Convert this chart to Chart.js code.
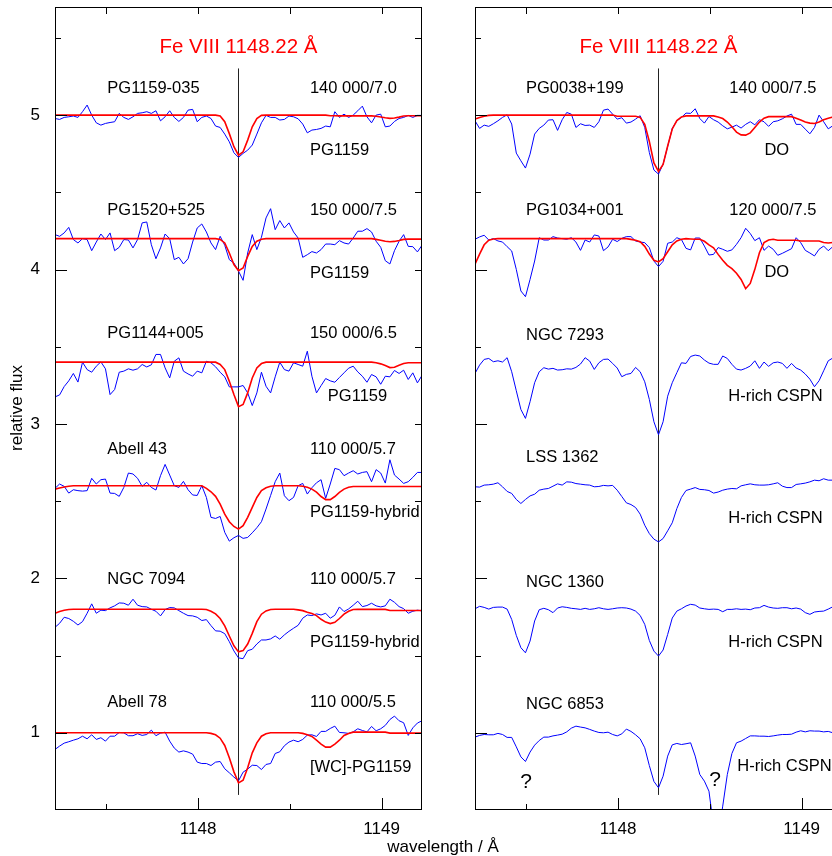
<!DOCTYPE html>
<html lang="en">
<head>
    <meta charset="utf-8">
    <title>Fe VIII 1148.22 line profiles</title>
    <style>
        html, body { margin: 0; padding: 0; background: #fff; overflow: hidden; }
        #figure { position: relative; width: 832px; height: 856px; overflow: hidden; }
        #left { position: absolute; left: 0; top: 0; }
        #right { position: absolute; left: 440px; top: 0; }
        #xlabel { position: absolute; left: 343px; top: 837px; width: 200px; text-align: center;
                  font: 17px 'Liberation Sans', Arial, sans-serif; line-height: 20px; color: #000; }
    </style>
</head>
<body>
    <div id="figure">
        <canvas id="left" width="440" height="856"></canvas>
        <canvas id="right" width="420" height="856"></canvas>
        <div id="xlabel">wavelength / Å</div>
    </div>
    <script src="https://cdn.jsdelivr.net/npm/chart.js@4.4.1/dist/chart.umd.min.js"></script>
    <script>
    // wavelength grid (Å), shared by every spectrum and model
    var wavelength = [1147.220,1147.245,1147.270,1147.295,1147.320,1147.345,1147.370,1147.395,1147.420,1147.445,
        1147.470,1147.495,1147.520,1147.545,1147.570,1147.595,1147.620,1147.645,1147.670,1147.695,
        1147.720,1147.745,1147.770,1147.795,1147.820,1147.845,1147.870,1147.895,1147.920,1147.945,
        1147.970,1147.995,1148.020,1148.045,1148.070,1148.095,1148.120,1148.145,1148.170,1148.195,
        1148.220,1148.245,1148.270,1148.295,1148.320,1148.345,1148.370,1148.395,1148.420,1148.445,
        1148.470,1148.495,1148.520,1148.545,1148.570,1148.595,1148.620,1148.645,1148.670,1148.695,
        1148.720,1148.745,1148.770,1148.795,1148.820,1148.845,1148.870,1148.895,1148.920,1148.945,
        1148.970,1148.995,1149.020,1149.045,1149.070,1149.095,1149.120,1149.145,1149.170,1149.195,
        1149.220];

    var xMajorTicks = [1148, 1149];
    var xMinorTicks = [1147.5, 1148.5];
    var yMajorTicks = [1, 2, 3, 4, 5];
    var yMinorTicks = [1.5, 2.5, 3.5, 4.5, 5.5];
    var lineX = [1148.22, 1148.22];
    var lineY = [5.30, 0.60];

    // ---- left panel: observed spectra (blue) ----
    var pg1159_035 = [4.978,4.972,4.985,4.989,4.994,4.985,5.022,5.065,5.000,4.950,
        4.935,4.946,4.952,4.957,5.011,4.985,4.972,4.989,5.011,5.015,
        5.022,5.011,5.028,4.963,4.989,5.028,4.985,4.959,4.985,5.032,
        5.037,4.957,4.985,4.994,4.978,4.929,4.920,4.877,4.827,4.756,
        4.726,4.752,4.773,4.806,4.877,4.950,4.998,4.985,4.985,4.968,
        4.972,4.994,4.989,4.976,4.942,4.885,4.903,4.907,4.914,4.929,
        4.924,5.022,4.985,5.006,4.985,5.000,5.028,5.058,4.989,4.950,
        5.000,5.006,4.924,4.929,4.959,4.978,4.985,4.998,4.985,4.998,
        4.998];
    var pg1520_525 = [4.226,4.215,4.237,4.273,4.194,4.172,4.200,4.194,4.122,4.178,
        4.230,4.194,4.237,4.122,4.144,4.194,4.191,4.140,4.194,4.302,
        4.308,4.161,4.070,4.140,4.230,4.200,4.064,4.079,4.036,4.070,
        4.178,4.269,4.295,4.243,4.172,4.129,4.215,4.157,4.064,4.042,
        3.990,3.930,4.107,4.226,4.129,4.209,4.334,4.394,4.258,4.317,
        4.269,4.302,4.243,4.204,4.079,4.096,4.116,4.107,4.129,4.165,
        4.165,4.161,4.187,4.172,4.165,4.204,4.248,4.248,4.265,4.243,
        4.183,4.144,4.057,4.036,4.122,4.183,4.226,4.150,4.148,4.114,
        4.157];
    var pg1144_005 = [3.175,3.188,3.242,3.279,3.327,3.271,3.400,3.352,3.335,3.374,
        3.402,3.357,3.190,3.223,3.335,3.342,3.357,3.348,3.357,3.385,
        3.369,3.383,3.450,3.450,3.363,3.298,3.406,3.428,3.342,3.324,
        3.309,3.342,3.331,3.406,3.396,3.370,3.335,3.305,3.240,3.240,
        3.240,3.249,3.201,3.119,3.201,3.335,3.244,3.201,3.305,3.400,
        3.352,3.342,3.396,3.385,3.374,3.471,3.309,3.201,3.248,3.294,
        3.279,3.270,3.301,3.331,3.361,3.374,3.337,3.309,3.270,3.320,
        3.305,3.257,3.309,3.305,3.346,3.327,3.348,3.288,3.331,3.266,
        3.314];
    var abell43 = [2.583,2.611,2.596,2.552,2.574,2.568,2.565,2.568,2.648,2.611,
        2.639,2.643,2.552,2.550,2.531,2.589,2.682,2.676,2.648,2.596,
        2.622,2.589,2.572,2.665,2.738,2.669,2.600,2.589,2.628,2.574,
        2.540,2.537,2.600,2.524,2.395,2.388,2.401,2.298,2.241,2.263,
        2.278,2.259,2.265,2.295,2.328,2.367,2.449,2.537,2.626,2.682,
        2.535,2.503,2.524,2.600,2.615,2.546,2.587,2.619,2.639,2.518,
        2.611,2.712,2.704,2.665,2.682,2.697,2.676,2.686,2.691,2.626,
        2.704,2.682,2.617,2.768,2.669,2.643,2.615,2.626,2.654,2.686,
        2.686];
    var ngc7094 = [1.683,1.709,1.748,1.740,1.722,1.698,1.720,1.774,1.835,1.774,
        1.794,1.791,1.809,1.822,1.841,1.839,1.826,1.865,1.826,1.817,
        1.815,1.800,1.787,1.757,1.798,1.811,1.809,1.791,1.774,1.759,
        1.757,1.748,1.727,1.733,1.694,1.660,1.658,1.642,1.590,1.530,
        1.485,1.480,1.532,1.541,1.575,1.601,1.601,1.608,1.627,1.606,
        1.634,1.657,1.677,1.696,1.742,1.763,1.759,1.770,1.763,1.774,
        1.742,1.761,1.815,1.785,1.802,1.826,1.852,1.817,1.824,1.839,
        1.822,1.815,1.822,1.865,1.845,1.817,1.804,1.774,1.787,1.794,
        1.789];
    var abell78 = [0.892,0.914,0.933,0.942,0.952,0.961,0.978,0.961,0.987,0.957,
        0.968,0.946,0.978,0.978,1.002,1.000,0.981,0.981,0.994,0.983,
        0.989,1.017,0.981,0.998,1.004,0.946,0.901,0.875,0.883,0.875,
        0.862,0.810,0.801,0.801,0.788,0.810,0.814,0.767,0.741,0.713,
        0.689,0.745,0.765,0.790,0.788,0.762,0.795,0.801,0.866,0.877,
        0.916,0.940,0.952,0.942,0.957,0.985,0.987,0.976,1.009,1.009,
        1.028,1.043,1.002,1.000,0.996,1.006,1.026,1.015,1.006,1.041,
        1.013,1.026,1.048,1.086,1.108,1.078,1.065,0.983,1.032,1.063,
        1.078];

    // ---- left panel: model spectra (red) ----
    var model140_70 = [5,5,5,5,5,5,5,5,5,5, 5,5,5,5,5,5,5,5,5,5, 5,5,5,5,5,5,5,5,5,5, 5,5,5,5,5,5,
        4.994,4.957,4.880,4.795,4.740,4.762,4.838,4.924,4.978,4.998,
        5,5,5,5,5,5,5,5,5,5, 5,5,5,5,
        4.996,4.996,4.995,4.995,4.995,4.995,4.995,4.995,4.995,4.995,4.993,4.988,
        4.983,4.979,4.981,4.987,4.994,4.996,4.996,4.996,4.996];
    var model150_75 = [4.2,4.2,4.2,4.2,4.2,4.2,4.2,4.2,4.2,4.2, 4.2,4.2,4.2,4.2,4.2,4.2,4.2,4.2,4.2,4.2,
        4.2,4.2,4.2,4.2,4.2,4.2,4.2,4.2,4.2,4.2, 4.2,4.2,4.2,4.2,4.2,4.2,
        4.195,4.172,4.107,4.032,3.993,4.010,4.085,4.150,4.183,4.196,
        4.2,4.2,4.2,4.2,4.2,4.2,4.2,4.2,4.2,4.2, 4.2,4.2,4.2,4.2,4.2,4.2,4.2,4.2,4.2,4.2, 4.2,4.2,4.2,4.2,
        4.195,4.190,4.183,4.180,4.182,4.188,4.195,4.197,4.197,4.197,4.197];
    var model150_65 = [3.4,3.4,3.4,3.4,3.4,3.4,3.4,3.4,3.4,3.4, 3.4,3.4,3.4,3.4,3.4,3.4,3.4,3.4,3.4,3.4,
        3.4,3.4,3.4,3.4,3.4,3.4,3.4,3.4,3.4,3.4, 3.4,3.4,3.4,3.4,3.4,3.4,
        3.385,3.352,3.277,3.190,3.112,3.126,3.201,3.298,3.363,3.391,
        3.4,3.4,3.4,3.4,3.4,3.4,3.4,3.4,3.4,3.4, 3.4,3.4,3.4,3.4,3.4,3.4,3.4,3.4,3.4,3.4, 3.4,3.4,3.4,3.4,
        3.396,3.389,3.378,3.365,3.367,3.380,3.391,3.396,3.396,3.396,3.396];
    var model110_57a = [2.578,2.585,2.592,2.597,
        2.6,2.6,2.6,2.6,2.6,2.6,2.6,2.6,2.6,2.6, 2.6,2.6,2.6,2.6,2.6,2.6,2.6,2.6,2.6,2.6, 2.6,2.6,2.6,2.6,2.6,2.6,2.6,2.6,2.6,
        2.583,2.561,2.531,2.481,2.416,2.367,2.336,2.319,2.341,2.395,2.460,2.524,2.568,2.587,2.596,
        2.6,2.6,2.6,2.6,2.6,2.6,
        2.597,2.590,2.578,2.558,2.530,2.510,2.510,2.530,2.557,2.578,2.590,
        2.595,2.595,2.595,2.595,2.595,2.595,2.595,2.595,2.595,2.595,2.595,2.595,2.595,2.595,2.595,2.595];
    var model110_57b = [1.774,1.786,1.794,1.798,
        1.8,1.8,1.8,1.8,1.8,1.8,1.8,1.8,1.8,1.8, 1.8,1.8,1.8,1.8,1.8,1.8,1.8,1.8,1.8,1.8, 1.8,1.8,1.8,1.8,1.8,1.8,1.8,1.8,1.8,
        1.798,1.787,1.770,1.740,1.692,1.627,1.563,1.524,1.532,1.575,1.644,1.720,1.768,1.789,1.798,
        1.8,1.8,1.8,1.8,1.8,
        1.796,1.791,1.781,1.772,1.759,1.735,1.717,1.707,1.715,1.740,1.768,1.787,1.798,
        1.799,1.799,1.799,1.799,1.799,1.799,1.799,
        1.792,1.792,1.792,1.792,1.792,1.792,1.792,1.792];
    var model110_55 = [1,1,1,1,1,1,1,1,1,1, 1,1,1,1,1,1,1,1,1,1, 1,1,1,1,1,1,1,1,1,1, 1,1,1,
        1.000,0.996,0.987,0.965,0.918,0.838,0.747,0.676,0.693,0.773,0.870,0.935,0.978,0.994,1.000,
        1,1,1,1,1,1,
        0.996,0.987,0.976,0.952,0.927,0.907,0.907,0.927,0.952,0.983,0.996,
        1.004,1.004,1.004,1.004,1.004,1.004,1.004,1.004,
        0.998,0.998,0.998,0.998,0.998,0.998,0.998,0.998];

    // ---- right panel: observed spectra (blue) ----
    var pg0038_199 = [4.963,4.914,4.935,4.927,4.944,4.963,4.985,5.002,4.942,4.754,
        4.704,4.657,4.747,4.877,4.914,4.935,4.968,4.970,4.901,4.970,
        5.017,5.006,4.920,4.944,4.933,4.935,4.920,4.957,5.032,5.039,
        5.006,4.974,4.983,4.948,4.955,4.974,4.996,4.920,4.758,4.644,
        4.618,4.682,4.797,4.914,4.963,4.985,5.013,5.011,5.041,4.978,
        4.948,4.991,4.970,4.955,4.931,4.911,4.922,4.935,4.916,4.940,
        4.957,4.937,4.970,4.957,4.927,4.957,4.963,4.976,4.994,5.006,
        4.940,4.940,4.909,4.879,4.920,5.000,4.957,4.911,4.931,4.952,
        4.963];
    var pg1034_001 = [4.196,4.211,4.222,4.191,4.200,4.185,4.178,4.148,4.120,4.001,
        3.861,3.824,3.936,4.055,4.206,4.191,4.191,4.213,4.204,4.200,
        4.196,4.206,4.178,4.124,4.191,4.178,4.224,4.217,4.122,4.146,
        4.196,4.181,4.202,4.213,4.213,4.185,4.178,4.174,4.142,4.055,
        4.019,4.053,4.170,4.178,4.206,4.194,4.137,4.127,4.204,4.204,
        4.152,4.094,4.098,4.142,4.131,4.118,4.127,4.163,4.206,4.267,
        4.233,4.187,4.206,4.124,4.152,4.131,4.092,4.105,4.120,4.135,
        4.206,4.174,4.124,4.107,4.088,4.131,4.152,4.122,4.148,4.152,
        4.163];
    var ngc7293 = [3.327,3.381,3.418,3.424,3.403,3.409,3.401,3.429,3.338,3.215,
        3.094,3.036,3.144,3.267,3.338,3.364,3.355,3.360,3.349,3.351,
        3.357,3.355,3.366,3.388,3.429,3.407,3.353,3.396,3.418,3.420,
        3.392,3.362,3.306,3.321,3.327,3.366,3.338,3.273,3.159,3.014,
        2.930,3.014,3.180,3.267,3.332,3.396,3.392,3.437,3.446,3.440,
        3.414,3.394,3.386,3.386,3.440,3.424,3.386,3.355,3.349,3.360,
        3.375,3.409,3.360,3.401,3.373,3.396,3.401,3.392,3.360,3.392,
        3.362,3.349,3.323,3.290,3.241,3.280,3.344,3.409,3.427,3.440,
        3.446];
    var lss1362 = [2.593,2.591,2.604,2.606,2.610,2.619,2.593,2.563,2.550,2.511,
        2.485,2.511,2.534,2.545,2.571,2.578,2.582,2.597,2.612,2.604,
        2.625,2.623,2.614,2.610,2.606,2.604,2.593,2.595,2.602,2.599,
        2.602,2.571,2.530,2.489,2.478,2.459,2.416,2.344,2.290,2.254,
        2.236,2.258,2.308,2.360,2.452,2.524,2.569,2.578,2.588,2.576,
        2.574,2.569,2.552,2.559,2.571,2.578,2.582,2.580,2.599,2.606,
        2.612,2.606,2.604,2.604,2.606,2.612,2.619,2.597,2.588,2.588,
        2.608,2.612,2.617,2.625,2.636,2.632,2.645,2.636,2.636,2.640,
        2.640];
    var ngc1360 = [1.803,1.819,1.812,1.801,1.812,1.814,1.814,1.801,1.734,1.631,
        1.551,1.518,1.594,1.724,1.797,1.806,1.797,1.778,1.808,1.816,
        1.812,1.806,1.803,1.799,1.806,1.799,1.803,1.810,1.803,1.799,
        1.803,1.808,1.810,1.808,1.801,1.788,1.760,1.702,1.598,1.529,
        1.497,1.536,1.637,1.743,1.788,1.803,1.821,1.832,1.827,1.808,
        1.803,1.799,1.801,1.799,1.784,1.799,1.799,1.803,1.799,1.801,
        1.797,1.808,1.810,1.825,1.814,1.808,1.806,1.810,1.810,1.803,
        1.808,1.801,1.778,1.767,1.782,1.786,1.788,1.801,1.816,1.821,
        1.821];
    var ngc6853 = [0.972,0.983,0.989,0.987,0.987,0.996,0.989,0.970,0.970,0.909,
        0.844,0.814,0.875,0.920,0.950,0.972,0.972,0.980,0.985,0.991,
        1.006,1.030,1.043,1.037,1.032,1.022,1.011,1.002,1.000,1.004,
        0.989,0.980,0.993,1.024,1.009,0.987,0.961,0.903,0.788,0.685,
        0.644,0.719,0.849,0.922,0.931,0.924,0.929,0.935,0.849,0.730,
        0.687,0.622,0.395,0.330,0.525,0.730,0.866,0.935,0.946,0.963,
        0.980,0.980,0.978,0.978,0.976,0.980,0.985,0.989,0.989,0.991,
        1.004,1.013,1.006,1.013,1.011,1.011,1.006,1.009,1.000,1.000,
        1.000];

    // ---- right panel: model spectra (red) ----
    var model140_75 = [4.974,4.985,4.993,4.998,
        5,5,5,5,5,5,5,5,5,5, 5,5,5,5,5,5,5,5,5,5, 5,5,5,5,5,5,5,
        4.993,4.993,4.993,4.993,4.993,
        4.985,4.940,4.830,4.690,4.635,4.680,4.800,4.910,4.965,4.988,
        4.995,4.995,4.995,4.995,4.995,4.995,4.995,
        4.988,4.978,4.955,4.925,4.890,4.872,4.870,4.885,4.920,4.955,4.980,
        4.990,4.990,4.990,4.990,4.990,4.990,
        4.980,4.968,4.955,4.948,4.946,4.955,4.970,4.980,4.988,4.988,4.988];
    var model120_75 = [4.034,4.100,4.160,4.190,4.198,
        4.2,4.2,4.2,4.2,4.2,4.2,4.2,4.2,4.2,4.2, 4.2,4.2,4.2,4.2,4.2,4.2,4.2,4.2,4.2,4.2, 4.2,4.2,4.2,4.2,4.2,4.2,4.2,4.2,4.2,
        4.195,4.190,4.180,4.150,4.100,4.060,4.049,4.070,4.115,4.160,4.185,4.196,4.200,
        4.198,4.196,4.196,4.183,4.159,4.140,4.098,4.060,4.027,4.006,3.976,3.936,3.876,3.910,4.001,4.109,4.174,4.191,4.196,
        4.190,4.190,4.190,4.190,4.190,
        4.185,4.185,4.185,4.185,4.185,
        4.175,4.172,4.175,4.175,4.175];

    var leftNames = ['PG1159-035', 'PG1520+525', 'PG1144+005', 'Abell 43', 'NGC 7094', 'Abell 78'];
    var leftModels = ['140 000/7.0', '150 000/7.5', '150 000/6.5', '110 000/5.7', '110 000/5.7', '110 000/5.5'];
    var leftTypes = ['PG1159', 'PG1159', 'PG1159', 'PG1159-hybrid', 'PG1159-hybrid', '[WC]-PG1159'];
    var rightNames = ['PG0038+199', 'PG1034+001', 'NGC 7293', 'LSS 1362', 'NGC 1360', 'NGC 6853'];
    var rightModels = ['140 000/7.5', '120 000/7.5'];
    var rightTypes = ['DO', 'DO', 'H-rich CSPN', 'H-rich CSPN', 'H-rich CSPN', 'H-rich CSPN'];
    var lineTitle = 'Fe VIII 1148.22 Å';

    var FONT = "'Liberation Sans', Arial, Helvetica, sans-serif";

    function pts(flux) {
        return wavelength.map(function (w, i) { return {x: w, y: flux[i]}; });
    }
    function observed(flux) {
        return {data: pts(flux), borderColor: '#0000ff', borderWidth: 1, order: 2};
    }
    function model(flux) {
        return {data: pts(flux), borderColor: '#ff0000', borderWidth: 1.6, order: 1};
    }
    function restLine() {
        return {data: lineX.map(function (x, i) { return {x: x, y: lineY[i]}; }),
                borderColor: '#222', borderWidth: 1, order: 3};
    }

    // frame, inward ticks and all the text of a panel
    var panelDecor = {
        id: 'panelDecor',
        afterDatasetsDraw: function (chart, args, o) {
            var ctx = chart.ctx, a = chart.chartArea, xs = chart.scales.x, ys = chart.scales.y;
            ctx.save();
            ctx.strokeStyle = '#000';
            ctx.lineWidth = 1;
            ctx.beginPath();
            function seg(x1, y1, x2, y2) { ctx.moveTo(x1, y1); ctx.lineTo(x2, y2); }
            xMajorTicks.forEach(function (v) {
                var p = Math.round(xs.getPixelForValue(v)) + 0.5;
                seg(p, a.bottom, p, a.bottom - 12); seg(p, a.top, p, a.top + 7);
            });
            xMinorTicks.forEach(function (v) {
                var p = Math.round(xs.getPixelForValue(v)) + 0.5;
                seg(p, a.bottom, p, a.bottom - 6); seg(p, a.top, p, a.top + 7);
            });
            yMajorTicks.forEach(function (v) {
                var p = Math.round(ys.getPixelForValue(v)) + 0.5;
                seg(a.left, p, a.left + 12, p); seg(a.right, p, a.right - 7, p);
            });
            yMinorTicks.forEach(function (v) {
                var p = Math.round(ys.getPixelForValue(v)) + 0.5;
                seg(a.left, p, a.left + 6, p); seg(a.right, p, a.right - 7, p);
            });
            ctx.stroke();
            ctx.strokeRect(Math.round(a.left) + 0.5, Math.round(a.top) + 0.5,
                           Math.round(a.width) - 1, Math.round(a.height) - 1);

            ctx.fillStyle = '#000';
            ctx.font = '17px ' + FONT;
            ctx.textAlign = 'center';
            ctx.textBaseline = 'middle';
            xMajorTicks.forEach(function (v) {
                ctx.fillText(String(v), xs.getPixelForValue(v), a.bottom + 19);
            });
            if (o.yLabels) {
                ctx.textAlign = 'right';
                yMajorTicks.forEach(function (v) {
                    ctx.fillText(String(v), a.left - 15, ys.getPixelForValue(v));
                });
                ctx.save();
                ctx.translate(17, 408);
                ctx.rotate(-Math.PI / 2);
                ctx.textAlign = 'center';
                ctx.fillText('relative flux', 0, 0);
                ctx.restore();
            }
            (o.texts || []).forEach(function (t) {
                ctx.font = (t.size || 16.5) + 'px ' + FONT;
                ctx.fillStyle = t.color || '#000';
                ctx.textAlign = t.align || 'left';
                ctx.fillText(t.text, xs.getPixelForValue(t.x), ys.getPixelForValue(t.y));
            });
            ctx.restore();
        }
    };

    function options(padLeft, texts, yLabels) {
        return {
            responsive: false,
            animation: false,
            layout: {padding: {left: padLeft, top: 7, right: 18, bottom: 46}},
            elements: {point: {radius: 0}, line: {tension: 0}},
            plugins: {legend: {display: false}, tooltip: {enabled: false},
                      panelDecor: {texts: texts, yLabels: yLabels}},
            scales: {
                x: {type: 'linear', min: 1147.22, max: 1149.22, display: false},
                y: {type: 'linear', min: 0.5, max: 5.7, display: false}
            }
        };
    }

    var leftNameY = [5.175, 4.385, 3.583, 2.838, 1.990, 1.194];
    var leftTypeY = [4.773, 3.977, 3.175, 2.430, 1.583, 0.773];
    var leftTexts = [{text: lineTitle, x: 1148.22, y: 5.44, align: 'center', color: '#ff0000', size: 20.5}];
    leftNames.forEach(function (s, i) {
        leftTexts.push({text: s, x: 1147.505, y: leftNameY[i]});
        leftTexts.push({text: leftModels[i], x: 1148.609, y: leftNameY[i]});
        leftTexts.push({text: leftTypes[i], x: i === 2 ? 1148.707 : 1148.609, y: leftTypeY[i]});
    });

    var rightNameY = [5.175, 4.381, 3.576, 2.786, 1.971, 1.181];
    var rightTypeY = [4.773, 3.979, 3.181, 2.385, 1.583, 0.780];
    var rightTypeX = [1148.797, 1148.797, 1148.600, 1148.600, 1148.600, 1148.649];
    var rightTexts = [{text: lineTitle, x: 1148.22, y: 5.44, align: 'center', color: '#ff0000', size: 20.5},
                      {text: '?', x: 1147.498, y: 0.683, align: 'center', size: 21},
                      {text: '?', x: 1148.529, y: 0.696, align: 'center', size: 21}];
    rightNames.forEach(function (s, i) {
        rightTexts.push({text: s, x: 1147.498, y: rightNameY[i]});
        if (rightModels[i]) rightTexts.push({text: rightModels[i], x: 1148.606, y: rightNameY[i]});
        rightTexts.push({text: rightTypes[i], x: rightTypeX[i], y: rightTypeY[i]});
    });

    new Chart(document.getElementById('left'), {
        type: 'line',
        data: {datasets: [
            observed(pg1159_035), observed(pg1520_525), observed(pg1144_005),
            observed(abell43), observed(ngc7094), observed(abell78),
            model(model140_70), model(model150_75), model(model150_65),
            model(model110_57a), model(model110_57b), model(model110_55),
            restLine()
        ]},
        options: options(55, leftTexts, true),
        plugins: [panelDecor]
    });

    new Chart(document.getElementById('right'), {
        type: 'line',
        data: {datasets: [
            observed(pg0038_199), observed(pg1034_001), observed(ngc7293),
            observed(lss1362), observed(ngc1360), observed(ngc6853),
            model(model140_75), model(model120_75),
            restLine()
        ]},
        options: options(35, rightTexts, false),
        plugins: [panelDecor]
    });
    </script>
</body>
</html>
